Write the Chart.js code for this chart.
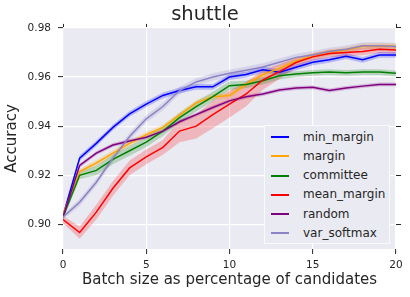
<!DOCTYPE html>
<html>
<head>
<meta charset="utf-8">
<script src="https://cdn.jsdelivr.net/npm/chart.js@4"></script>
<style>
body { margin: 0; background: #fff; }
#wrap { position: relative; width: 410px; height: 297px; }
#legend { position: absolute; left: 264px; top: 125px; width: 124px; height: 117px;
  background: #EAEAF2; border: 1px solid #fafafc;
  font: 12px "DejaVu Sans", sans-serif; color: #262626; }
.item { position: absolute; left: 0; width: 124px; height: 19px; line-height: 19px; }
.swatch { position: absolute; left: 6px; top: 8.5px; width: 18px; height: 2px; }
.name { position: absolute; left: 38px; top: 0; white-space: nowrap; }
</style>
</head>
<body>
<div id="wrap">
  <canvas id="myChart" width="410" height="297"></canvas>
  <div id="legend"></div>
</div>
<script>
// batch size (% of candidates)
const batchSizes = [0,1,2,3,4,5,6,7,8,9,10,11,12,13,14,15,16,17,18,19,20];

const seriesNames  = ['min_margin','margin','committee','mean_margin','random','var_softmax'];
const seriesColors = ['#0000ff','#ffa500','#008000','#ff0000','#800080','#8c82c4'];

const minMargin  = [0.9035,0.927,0.933,0.9395,0.945,0.949,0.9525,0.9545,0.956,0.956,0.960,0.961,0.963,0.962,0.964,0.966,0.967,0.9685,0.967,0.969,0.969];
const margin     = [0.904,0.9215,0.925,0.929,0.933,0.9365,0.9395,0.9445,0.9495,0.952,0.9525,0.957,0.961,0.9635,0.9665,0.9685,0.970,0.971,0.9725,0.9727,0.9725];
const committee  = [0.903,0.920,0.922,0.9265,0.930,0.9335,0.938,0.9435,0.948,0.952,0.9565,0.957,0.9585,0.9605,0.9612,0.9617,0.962,0.9617,0.962,0.962,0.9615];
const meanMargin = [0.902,0.8967,0.905,0.9147,0.923,0.9275,0.9314,0.938,0.940,0.9447,0.949,0.9531,0.9588,0.9622,0.9659,0.9682,0.9696,0.970,0.9704,0.9713,0.971];
const random     = [0.903,0.924,0.929,0.9323,0.934,0.9355,0.938,0.9418,0.9447,0.9476,0.9503,0.952,0.9531,0.9547,0.9555,0.9558,0.9545,0.9555,0.9563,0.957,0.957];
const varSoftmax = [0.903,0.909,0.9172,0.927,0.9358,0.943,0.948,0.9545,0.958,0.960,0.9615,0.9628,0.9641,0.966,0.968,0.969,0.9704,0.9713,0.9727,0.9727,0.9724];

// half width of the shaded band around each line
const minMarginErr  = [0.001,0.0012,0.0012,0.0012,0.0012,0.0012,0.0012,0.0012,0.0012,0.0012,0.0012,0.0012,0.0012,0.0012,0.0012,0.0012,0.0012,0.0012,0.0012,0.0012,0.0012];
const marginErr     = [0.001,0.0012,0.0012,0.0012,0.0012,0.0012,0.0012,0.0012,0.0012,0.0012,0.0012,0.0012,0.0012,0.0012,0.0012,0.0012,0.0012,0.0012,0.0012,0.0012,0.0012];
const committeeErr  = [0.001,0.0015,0.002,0.002,0.002,0.002,0.002,0.002,0.002,0.002,0.0018,0.0015,0.0015,0.0015,0.0012,0.0012,0.0012,0.0012,0.0012,0.0012,0.0012];
const meanMarginErr = [0.0015,0.0025,0.003,0.003,0.003,0.003,0.003,0.0045,0.005,0.0055,0.0055,0.005,0.004,0.003,0.002,0.0015,0.0015,0.0015,0.0015,0.0015,0.0015];
const randomErr     = [0.0008,0.0008,0.0008,0.0008,0.0008,0.0008,0.0008,0.0008,0.0008,0.0008,0.0008,0.0008,0.0008,0.0008,0.0008,0.0008,0.0008,0.0008,0.0008,0.0008,0.0008];
const varSoftmaxErr = [0.001,0.0015,0.0015,0.0015,0.0015,0.0015,0.0015,0.0015,0.0015,0.0015,0.0015,0.0015,0.0015,0.0015,0.0015,0.0015,0.0015,0.0015,0.0015,0.0015,0.0015];

const yTicks = [0.90,0.92,0.94,0.96,0.98];
const xTickStep = 5;

const seriesValues = [minMargin, margin, committee, meanMargin, random, varSoftmax];
const seriesErrs   = [minMarginErr, marginErr, committeeErr, meanMarginErr, randomErr, varSoftmaxErr];

function rgba(hex, a) {
  const n = parseInt(hex.slice(1), 16);
  return 'rgba(' + (n >> 16 & 255) + ',' + (n >> 8 & 255) + ',' + (n & 255) + ',' + a + ')';
}

const datasets = [];
seriesNames.forEach((name, i) => {
  const vals = seriesValues[i], err = seriesErrs[i];
  const lowIdx = datasets.length;
  datasets.push({
    label: name + ' low',
    data: batchSizes.map((x, j) => ({x: x, y: vals[j] - err[j]})),
    borderWidth: 0, pointRadius: 0, fill: false, order: 100 + i
  });
  datasets.push({
    label: name + ' high',
    data: batchSizes.map((x, j) => ({x: x, y: vals[j] + err[j]})),
    borderWidth: 0, pointRadius: 0,
    fill: {target: lowIdx}, backgroundColor: rgba(seriesColors[i], 0.22), order: 100 + i
  });
  datasets.push({
    label: name,
    data: batchSizes.map((x, j) => ({x: x, y: vals[j]})),
    borderColor: seriesColors[i], borderWidth: 1.5, pointRadius: 0, fill: false,
    tension: 0, order: seriesNames.length - i
  });
});

const plotBg = {
  id: 'plotBg',
  beforeDraw(chart) {
    const a = chart.chartArea, ctx = chart.ctx;
    ctx.save();
    ctx.fillStyle = '#EAEAF2';
    ctx.fillRect(a.left, a.top, a.right - a.left, a.bottom - a.top);
    ctx.restore();
  }
};

const font = 'DejaVu Sans';
const dark = '#262626';
const tickGrid = {color: '#ffffff', lineWidth: 1.2, tickColor: dark, tickLength: 5, tickWidth: 1};

var ctx = document.getElementById('myChart').getContext('2d');
var myChart = new Chart(ctx, {
  type: 'line',
  data: {datasets: datasets},
  plugins: [plotBg],
  options: {
    responsive: false,
    animation: false,
    layout: {padding: 0},
    plugins: {
      legend: {display: false},
      tooltip: {enabled: false},
      title: {
        display: true, text: 'shuttle', color: dark,
        font: {family: font, size: 19.5, weight: 'normal', lineHeight: 1.2},
        padding: {top: 3, bottom: 0}
      }
    },
    scales: {
      x: {
        type: 'linear', position: 'bottom', min: 0, max: 20,
        ticks: {stepSize: xTickStep, padding: 5, color: dark, font: {family: font, size: 10.5}},
        grid: tickGrid, border: {display: false},
        title: {display: true, text: 'Batch size as percentage of candidates', color: dark,
                font: {family: font, size: 15}, padding: {top: 0, bottom: 7.5}},
        afterFit: s => { s.height = 48; }
      },
      x2: {
        type: 'linear', position: 'top', min: 0, max: 20,
        ticks: {display: false, stepSize: xTickStep},
        grid: {drawOnChartArea: false, tickColor: dark, tickLength: 4, tickWidth: 1},
        border: {display: false},
        afterFit: s => { s.height = 1.5; }
      },
      y: {
        type: 'linear', position: 'left', min: 0.89, max: 0.98,
        afterBuildTicks: s => { s.ticks = yTicks.map(v => ({value: v})); },
        ticks: {padding: 7, color: dark, font: {family: font, size: 10.5},
                callback: v => Number(v).toFixed(2)},
        grid: tickGrid, border: {display: false},
        title: {display: true, text: 'Accuracy', color: dark,
                font: {family: font, size: 15}, padding: {top: 3.5, bottom: 0}},
        afterFit: s => { s.width = 63; }
      },
      y2: {
        type: 'linear', position: 'right', min: 0.89, max: 0.98,
        afterBuildTicks: s => { s.ticks = yTicks.map(v => ({value: v})); },
        ticks: {display: false},
        grid: {drawOnChartArea: false, tickColor: dark, tickLength: 5, tickWidth: 1},
        border: {display: false},
        afterFit: s => { s.width = 14; }
      }
    }
  }
});

// legend built from the same names/colours
const legend = document.getElementById('legend');
seriesNames.forEach((name, i) => {
  const item = document.createElement('div');
  item.className = 'item';
  item.style.top = (1.7 + i * 19.2) + 'px';
  const sw = document.createElement('div');
  sw.className = 'swatch';
  sw.style.background = seriesColors[i];
  const label = document.createElement('span');
  label.className = 'name';
  label.textContent = name;
  item.appendChild(sw);
  item.appendChild(label);
  legend.appendChild(item);
});
</script>
</body>
</html>
